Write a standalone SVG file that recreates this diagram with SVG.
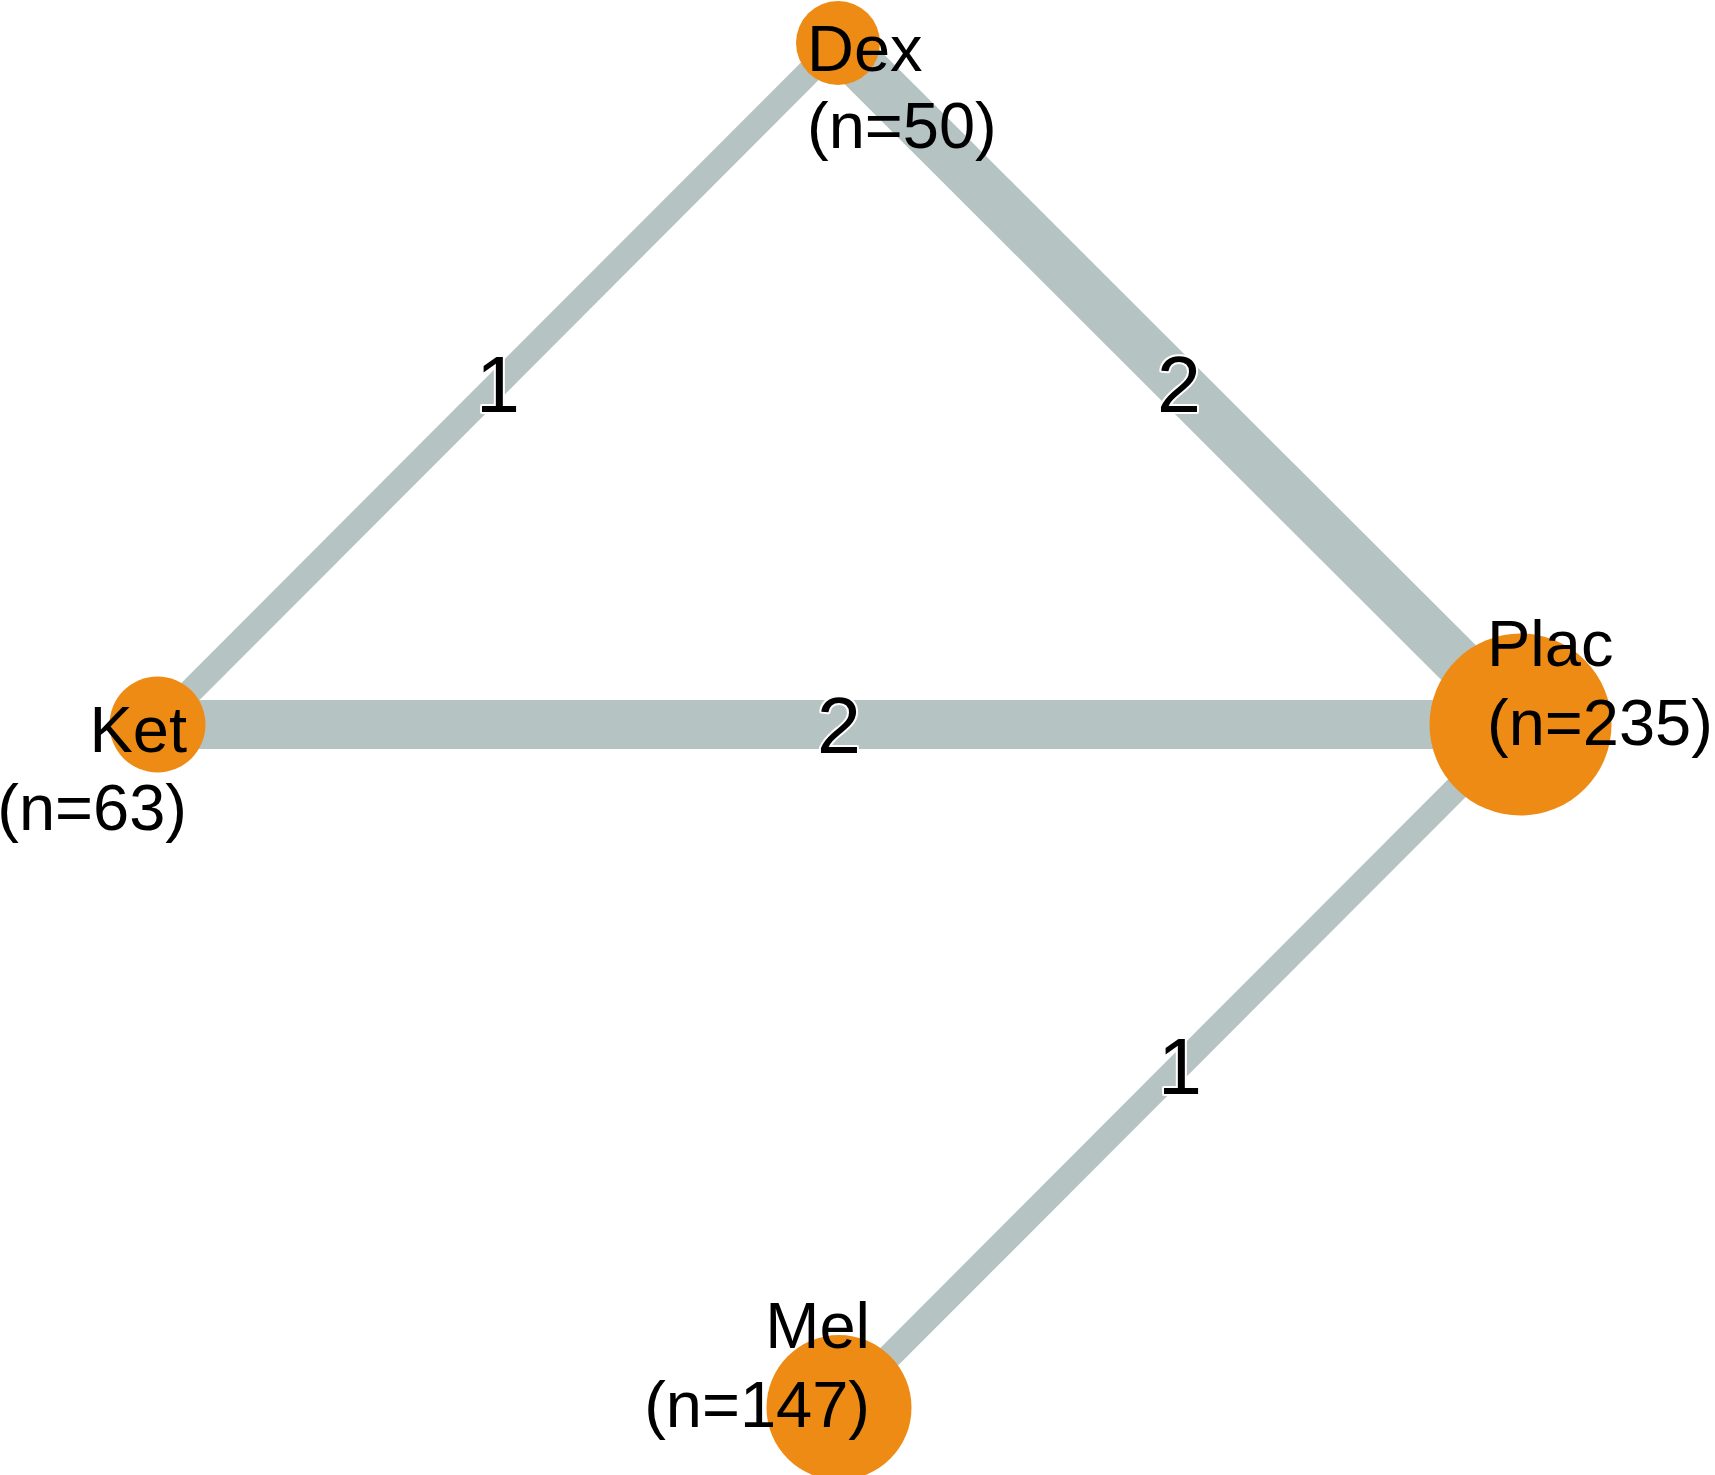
<svg xmlns="http://www.w3.org/2000/svg" width="1715" height="1475" viewBox="0 0 1715 1475">
<style>
.edge{stroke:#b5c4c3;stroke-linecap:butt;fill:none}
.w1{stroke-width:25}
.w2{stroke-width:49}
.node{fill:#ee8b14}
.nl{font-family:"Liberation Sans",Arial,sans-serif;font-size:65px;fill:#000}
.el{font-family:"Liberation Sans",Arial,sans-serif;font-size:79px;fill:#000;text-anchor:middle;stroke:#fff;stroke-width:4px;paint-order:stroke;stroke-linejoin:round}
</style>
<rect width="1715" height="1475" fill="#fff"/>
<g id="connectors">
<line class="edge w1" x1="157.5" y1="724.5" x2="838" y2="43"/>
<line class="edge w2" x1="838" y1="43" x2="1520.5" y2="724.5"/>
<line class="edge w2" x1="157.5" y1="724.5" x2="1520.5" y2="724.5"/>
<line class="edge w1" x1="1520.5" y1="724.5" x2="839" y2="1407"/>
</g>
<g id="node-Dex">
<circle class="node" cx="838" cy="43" r="42"/>
<text class="nl" x="807" y="71">Dex</text>
<text class="nl" x="807" y="148">(n=50)</text>
</g>
<g id="node-Ket">
<circle class="node" cx="157.5" cy="724.5" r="48"/>
<text class="nl" x="187" y="752" text-anchor="end">Ket</text>
<text class="nl" x="187" y="830" text-anchor="end">(n=63)</text>
</g>
<g id="node-Plac">
<circle class="node" cx="1520.5" cy="724.5" r="91"/>
<text class="nl" x="1487" y="666">Plac</text>
<text class="nl" x="1487" y="745">(n=235)</text>
</g>
<g id="node-Mel">
<circle class="node" cx="839" cy="1407.5" r="72.5"/>
<text class="nl" x="870" y="1348" text-anchor="end">Mel</text>
<text class="nl" x="870" y="1427" text-anchor="end">(n=147)</text>
</g>
<g id="edge-labels">
<text class="el" x="498" y="412">1</text>
<text class="el" x="1179" y="412">2</text>
<text class="el" x="839" y="753">2</text>
<text class="el" x="1180" y="1094">1</text>
</g>
</svg>
